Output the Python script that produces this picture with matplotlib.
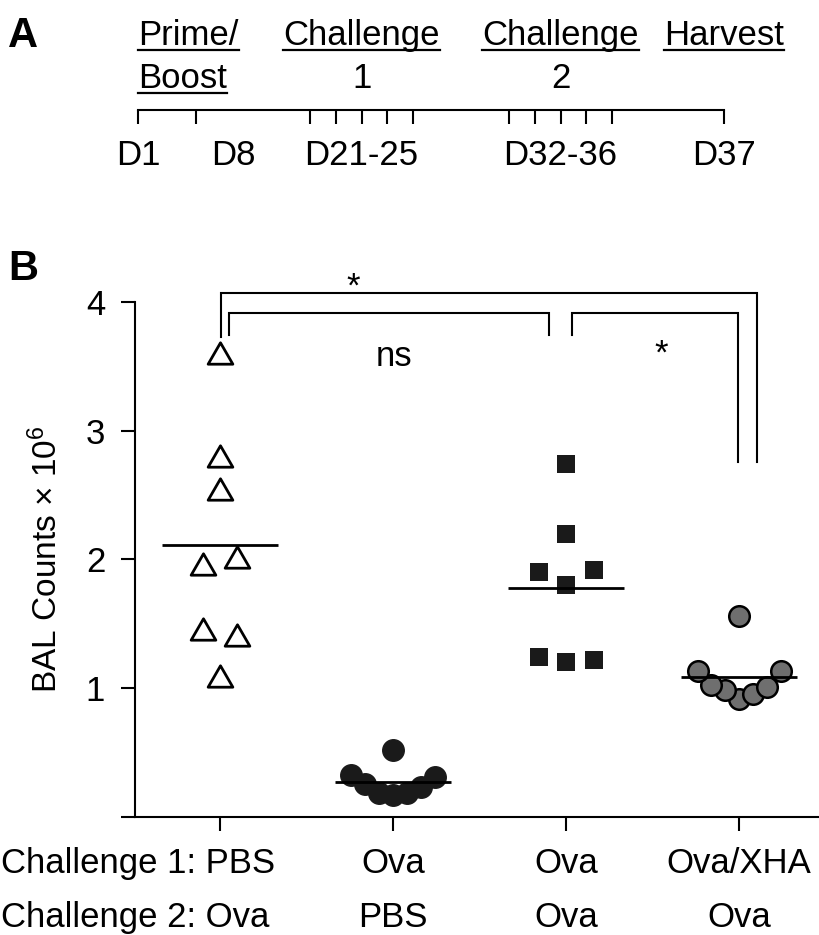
import numpy as np
import matplotlib
matplotlib.use('Agg')
import matplotlib.pyplot as plt
from matplotlib.path import Path
from matplotlib.lines import Line2D
from matplotlib.transforms import blended_transform_factory, IdentityTransform

plt.rcParams['font.family'] = ['Liberation Sans', 'DejaVu Sans']
plt.rcParams['mathtext.fontset'] = 'custom'
plt.rcParams['mathtext.rm'] = 'Liberation Sans'
plt.rcParams['mathtext.it'] = 'Liberation Sans:italic'
plt.rcParams['mathtext.bf'] = 'Liberation Sans:bold'
plt.rcParams['mathtext.default'] = 'regular'

# ---------------- data ----------------
# Panel A: experimental timeline
timeline_days = [1, 8, 21, 22, 23, 24, 25, 32, 33, 34, 35, 36, 37]
timeline_labels = ['D1', 'D8', 'D21-25', 'D32-36', 'D37']
timeline_label_days = [1, 8, 23, 34, 37]
phase_top = ['Prime/', 'Challenge', 'Challenge', 'Harvest']
phase_bottom = ['Boost', '1', '2', '']
phase_days = [1, 23, 34, 37]

# Panel B: BAL counts (x 10^6), one list per group
challenge1 = ['PBS', 'Ova', 'Ova', 'Ova/XHA']
challenge2 = ['Ova', 'PBS', 'Ova', 'Ova']
pbs_ova = [3.60, 2.80, 2.55, 1.96, 2.02, 1.46, 1.41, 1.09]
ova_pbs = [0.52, 0.17, 0.18, 0.18, 0.25, 0.23, 0.32, 0.31]
ova_ova = [2.74, 2.20, 1.80, 1.90, 1.92, 1.20, 1.24, 1.22]
ova_xha = [1.56, 0.91, 0.98, 0.95, 1.02, 1.01, 1.13, 1.13]
groups = [pbs_ova, ova_pbs, ova_ova, ova_xha]

comparisons = ['*', 'ns', '*']

# ---------------- layout / style ----------------
W, H = 820, 935
FS = 25


def fy(px):
    return 1 - px / H


# schematic (non-linear) placement of days along the timeline
layout_days = [1, 8, 21, 25, 32, 36, 37]
layout_pos = [0, 58, 172, 275, 371, 474, 586]


def fwd(d):
    return np.interp(d, layout_days, layout_pos)


def inv(p):
    return np.interp(p, layout_pos, layout_days)


tri = Path([(-1, -0.866), (1, -0.866), (0, 0.866), (-1, -0.866)],
           [Path.MOVETO, Path.LINETO, Path.LINETO, Path.CLOSEPOLY])
styles = [
    dict(marker=tri, ms=17.8, mfc='white', mec='black', mew=2.0, step=0.197),
    dict(marker='o', ms=15.5, mfc='#1a1a1a', mec='#1a1a1a', mew=1.0, step=0.081),
    dict(marker='s', ms=13.2, mfc='#1a1a1a', mec='#1a1a1a', mew=0.0, step=0.159),
    dict(marker='o', ms=14.8, mfc='#6f6f6f', mec='black', mew=1.8, step=0.080),
]


def swarm_offsets(values, step, gap=0.18):
    v = np.asarray(values, float)
    order = np.argsort(v, kind='stable')
    clusters, cur = [], [order[0]]
    for a, b in zip(order[:-1], order[1:]):
        if v[b] - v[a] < gap:
            cur.append(b)
        else:
            clusters.append(cur)
            cur = [b]
    clusters.append(cur)
    off = np.zeros(len(v))
    for c in clusters:
        c = sorted(c)
        n = len(c)
        if n % 2:
            slots = [0] + [s for k in range(1, n // 2 + 1) for s in (-k, k)]
        else:
            slots = [s for k in range(n // 2) for s in (-(k + 0.5), k + 0.5)]
        for idx, s in zip(c, slots):
            off[idx] = s * step
    return off


fig = plt.figure(figsize=(W / 100, H / 100), dpi=100)

# ---------------- Panel A ----------------
ax_a = fig.add_axes([138.3 / W, fy(110), (724 - 138.3) / W, 0.04])
ax_a.set_xscale('function', functions=(fwd, inv))
ax_a.set_xlim(1, 37)
for s in ['top', 'left', 'right']:
    ax_a.spines[s].set_visible(False)
ax_a.spines['bottom'].set_linewidth(1.5)
ax_a.set_xticks(timeline_days)
ax_a.xaxis.set_minor_locator(matplotlib.ticker.NullLocator())
ax_a.tick_params(axis='x', direction='out', length=10, width=1.5, labelbottom=False)
ax_a.set_yticks([])
ax_a.patch.set_visible(False)

tA = blended_transform_factory(ax_a.transData, fig.transFigure)
label_dx = {'D8': 26.6}
for lab, d in zip(timeline_labels, timeline_label_days):
    ax_a.annotate(lab, xy=(d, fy(165)), xycoords=tA, xytext=(label_dx.get(lab, 0), 0),
                  textcoords='offset points', ha='center', va='baseline', fontsize=FS)

underlined = []
for i, (top, bot, d) in enumerate(zip(phase_top, phase_bottom, phase_days)):
    ha = 'left' if i == 0 else 'center'
    t1 = ax_a.text(d, fy(45), top, transform=tA, ha=ha, va='baseline', fontsize=FS)
    underlined.append(t1)
    if bot:
        t2 = ax_a.text(d, fy(87.5), bot, transform=tA, ha=ha, va='baseline', fontsize=FS)
        if i == 0:
            underlined.append(t2)

fig.text(8 / W, fy(47), 'A', fontsize=30, fontweight='bold', ha='left', va='baseline')
fig.text(8 / W, fy(280), 'B', fontsize=30, fontweight='bold', ha='left', va='baseline')

# ---------------- Panel B ----------------
ax = fig.add_axes([135 / W, fy(816.5), (W - 135) / W, (816.5 - 302) / H])
positions = np.arange(len(groups))
ax.set_xlim(-0.4913, 3.468)
ax.set_ylim(0, 4)
for s in ['top', 'right']:
    ax.spines[s].set_visible(False)
for s in ['left', 'bottom']:
    ax.spines[s].set_linewidth(1.5)
ax.set_yticks([0, 1, 2, 3, 4])
ax.set_yticklabels(['', '1', '2', '3', '4'])
ax.set_xticks(positions)
ax.set_xticklabels([])
ax.tick_params(direction='out', length=10, width=1.5, labelsize=FS, pad=11.5)
ax.set_ylabel('BAL Counts × 10$^{6}$', fontsize=24)
ax.yaxis.set_label_coords((64 - 135) / 685, 0.5)

for x0, vals, st in zip(positions, groups, styles):
    st = dict(st)
    step = st.pop('step')
    off = swarm_offsets(vals, step)
    ax.plot(x0 + off, vals, linestyle='none', clip_on=False, zorder=3, **st)
    ax.hlines(np.mean(vals), x0 - 0.333, x0 + 0.333, color='black', lw=2.0, zorder=4)

# significance brackets: (x_left, x_right, y_top, y_left_end, y_right_end)
brackets = [
    (0.006, 3.104, 4.073, 3.731, 2.759),
    (0.054, 1.903, 3.913, 3.744, 3.744),
    (2.036, 2.993, 3.913, 3.744, 2.759),
]
text_pos = [(0.769, 4.044), (1.006, 3.503), (2.549, 3.523)]
for (xl, xr, yt, yl, yr), lab, (tx, ty) in zip(brackets, comparisons, text_pos):
    ax.plot([xl, xl, xr, xr], [yl, yt, yt, yr], color='black', lw=1.5,
            clip_on=False, solid_joinstyle='miter', zorder=2)
    ax.text(tx, ty, lab, ha='center', va='baseline', fontsize=FS)

tB = blended_transform_factory(ax.transData, fig.transFigure)
for row, (name, labels) in enumerate([('Challenge 1:', challenge1), ('Challenge 2:', challenge2)]):
    yb = fy(873.3 if row == 0 else 926.7)
    fig.text(1 / W, yb, f'{name} {labels[0]}', ha='left', va='baseline', fontsize=FS)
    for x0, lab in zip(positions[1:], labels[1:]):
        ax.text(x0, yb, lab, transform=tB, ha='center', va='baseline', fontsize=FS)

# underlines for the timeline headings
fig.canvas.draw()
r = fig.canvas.get_renderer()
for t in underlined:
    bb = t.get_window_extent(r)
    _, yb = t.get_transform().transform(t.get_position())
    yl = yb - 5
    fig.add_artist(Line2D([bb.x0, bb.x1], [yl, yl], transform=IdentityTransform(),
                          lw=1.6, color='black'))

fig.savefig('out.png', dpi=100)
